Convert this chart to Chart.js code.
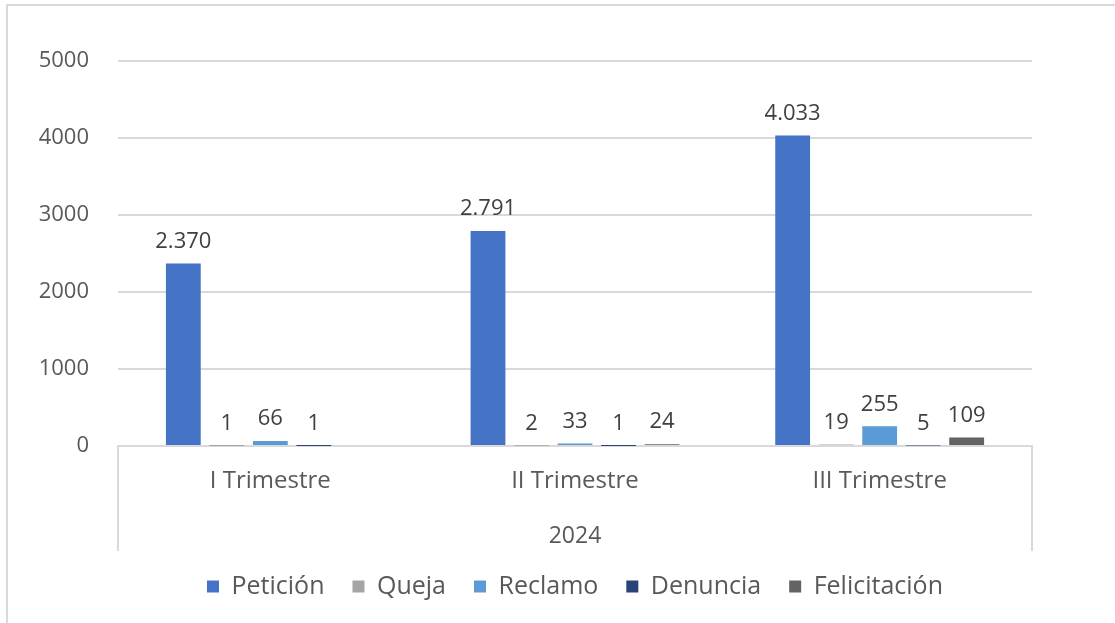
<!DOCTYPE html>
<html>
<head>
<meta charset="utf-8">
<script src="https://cdn.jsdelivr.net/npm/chart.js@4.4.1/dist/chart.umd.min.js"></script>
<style>
  body { margin: 0; background: #fff; }
  canvas { display: block; }
</style>
</head>
<body>
<canvas id="pqrs_chart" width="1115" height="623"></canvas>
<script>
var categories = ["I Trimestre", "II Trimestre", "III Trimestre"];
var peticion = [2370, 2791, 4033];
var queja = [1, 2, 19];
var reclamo = [66, 33, 255];
var denuncia = [1, 1, 5];
var felicitacion = [null, 24, 109];
var yTicks = [0, 1000, 2000, 3000, 4000, 5000];

var FONT = "'Open Sans', sans-serif";
var GRID = "#d9d9d9";
var TEXT = "#595959";

// 2370 -> "2.370"
function fmt(v) {
  return String(v).replace(/\B(?=(\d{3})+(?!\d))/g, ".");
}

// valores encima de cada barra
var barLabels = {
  id: "barLabels",
  afterDatasetsDraw: function (chart) {
    var ctx = chart.ctx;
    ctx.save();
    ctx.font = "22px " + FONT;
    ctx.fillStyle = "#404040";
    ctx.textAlign = "center";
    ctx.textBaseline = "bottom";
    chart.data.datasets.forEach(function (ds, i) {
      var meta = chart.getDatasetMeta(i);
      meta.data.forEach(function (bar, j) {
        var v = ds.data[j];
        if (v === null || v === undefined) return;
        ctx.fillText(fmt(v), bar.x, bar.y - 11);
      });
    });
    ctx.restore();
  },
};

// leyenda centrada bajo el área de trazado, no bajo todo el lienzo
var legendUnderPlot = {
  id: "legendUnderPlot",
  afterLayout: function (chart) {
    if (!chart.legend) return;
    chart.legend.left = chart.chartArea.left;
    chart.legend.right = chart.chartArea.right;
  },
};

// marco del gráfico y separadores del eje de categorías
var frame = {
  id: "frame",
  beforeDraw: function (chart) {
    var ctx = chart.ctx;
    var a = chart.chartArea;
    ctx.save();
    ctx.strokeStyle = GRID;
    ctx.lineWidth = 2;
    ctx.beginPath();
    ctx.moveTo(6, 5);
    ctx.lineTo(chart.width, 5);
    ctx.moveTo(7, 5);
    ctx.lineTo(7, chart.height);
    ctx.moveTo(a.left, a.bottom);
    ctx.lineTo(a.left, a.bottom + 105);
    ctx.moveTo(a.right, a.bottom);
    ctx.lineTo(a.right, a.bottom + 105);
    ctx.stroke();
    ctx.restore();
  },
};

var ctx = document.getElementById("pqrs_chart").getContext("2d");
var pqrs_chart = new Chart(ctx, {
  type: "bar",
  data: {
    labels: categories,
    datasets: [
      { label: "Petición", data: peticion, backgroundColor: "#4472c4" },
      { label: "Queja", data: queja, backgroundColor: "#a5a5a5" },
      { label: "Reclamo", data: reclamo, backgroundColor: "#5b9bd5" },
      { label: "Denuncia", data: denuncia, backgroundColor: "#264478" },
      { label: "Felicitación", data: felicitacion, backgroundColor: "#636363" },
    ],
  },
  plugins: [frame, legendUnderPlot, barLabels],
  options: {
    responsive: false,
    animation: false,
    categoryPercentage: 0.714,
    barPercentage: 0.8,
    layout: {
      padding: { top: 61, right: 83, left: 0, bottom: 14 },
    },
    scales: {
      x: {
        afterFit: function (scale) {
          scale.height = 100;
        },
        grid: { display: false },
        border: { display: true, color: GRID, width: 2 },
        ticks: {
          color: TEXT,
          font: { family: FONT, size: 24 },
          padding: 13,
        },
        title: {
          display: true,
          text: "2024",
          color: TEXT,
          font: { family: FONT, size: 23 },
          padding: { top: 0, bottom: -4 },
        },
      },
      y: {
        min: 0,
        max: 5000,
        afterBuildTicks: function (scale) {
          scale.ticks = yTicks.map(function (v) { return { value: v }; });
        },
        afterFit: function (scale) {
          scale.width = 118;
        },
        grid: { color: GRID, lineWidth: 2, drawTicks: false },
        border: { display: false },
        ticks: {
          color: TEXT,
          font: { family: FONT, size: 22 },
          padding: 29,
          callback: function (v) { return String(v); },
        },
      },
    },
    plugins: {
      legend: {
        position: "bottom",
        labels: {
          color: TEXT,
          font: { family: FONT, size: 25 },
          boxWidth: 12,
          boxHeight: 12,
          padding: 28,
        },
      },
      tooltip: { enabled: false },
    },
  },
});
</script>
</body>
</html>
